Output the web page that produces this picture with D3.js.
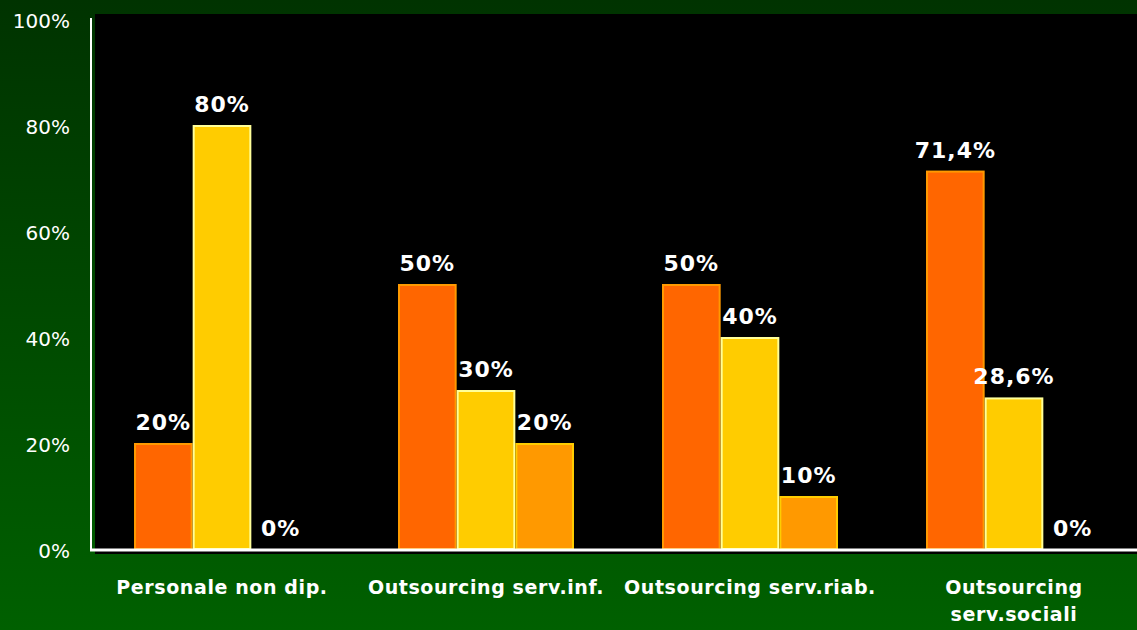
<!DOCTYPE html>
<html><head><meta charset="utf-8">
<script src="https://cdn.jsdelivr.net/npm/d3@7"></script>
<style>html,body{margin:0;padding:0;background:#000;}svg{display:block;}</style>
</head><body>
<svg id="c" width="1137" height="630"></svg>
<script>
const categories = [["Personale non dip."],["Outsourcing serv.inf."],["Outsourcing serv.riab."],["Outsourcing","serv.sociali"]];
const series1 = [20, 50, 50, 71.4];
const series2 = [80, 30, 40, 28.6];
const series3 = [0, 20, 10, 0];
const valueLabels1 = ["20%","50%","50%","71,4%"];
const valueLabels2 = ["80%","30%","40%","28,6%"];
const valueLabels3 = ["0%","20%","10%","0%"];
const yTicks = [0,20,40,60,80,100];
const fills = ["#FF6600","#FFCC00","#FF9900"];
const strokes = ["#FF9900","#FFFF99","#FFCC00"];

const svg = d3.select("#c");
const W = 1137, H = 630;
const defs = svg.append("defs");
const g = defs.append("linearGradient").attr("id","bg").attr("x1",0).attr("y1",0).attr("x2",0).attr("y2",1);
g.append("stop").attr("offset","0%").attr("stop-color","#003300");
g.append("stop").attr("offset","100%").attr("stop-color","#006000");
svg.append("rect").attr("width",W).attr("height",H).attr("fill","url(#bg)");

const x0 = d3.scaleBand().domain(d3.range(categories.length)).range([90,1146]).paddingInner(1/3).paddingOuter(1/6);
const x1 = d3.scaleBand().domain([0,1,2]).range([0,x0.bandwidth()]);
const y = d3.scaleLinear().domain([0,100]).range([549,19]);

// plot area
svg.append("rect").attr("x",95).attr("y",14).attr("width",W-95).attr("height",540).attr("fill","#000");

const seriesArr = [series1,series2,series3];
const labelsArr = [valueLabels1,valueLabels2,valueLabels3];
seriesArr.forEach((s,si)=>{
  svg.append("g").selectAll("rect").data(s).join("rect")
    .attr("x",(d,i)=>x0(i)+x1(si)+1)
    .attr("y",d=>y(d)+1)
    .attr("width",x1.bandwidth()-2)
    .attr("height",d=>Math.max(0,y(0)-y(d)-1))
    .attr("fill",fills[si]).attr("stroke",d=>d>0?strokes[si]:"none").attr("stroke-width",2);
  svg.append("g").selectAll("text").data(s).join("text")
    .attr("x",(d,i)=>x0(i)+x1(si)+x1.bandwidth()/2)
    .attr("y",d=>y(d)-13)
    .attr("text-anchor","middle")
    .attr("fill","#fff").attr("font-family","DejaVu Sans, Verdana, sans-serif").attr("font-weight","bold").attr("font-size","22px").attr("letter-spacing","1px")
    .text((d,i)=>labelsArr[si][i]);
});

// axes
const yAxis = d3.axisLeft(y).tickValues(yTicks).tickSize(0).tickPadding(21).tickFormat(d=>d+"%");
const ya = svg.append("g").attr("transform","translate(91,0)").call(yAxis);
ya.select(".domain").attr("stroke","#fff").attr("stroke-width",2).attr("d","M0,18V550");
ya.selectAll("text").attr("fill","#fff").attr("font-family","DejaVu Sans, Verdana, sans-serif").attr("font-size","20px").attr("dy","0.4em");

svg.append("line").attr("x1",90).attr("x2",W).attr("y1",y(0)+1).attr("y2",y(0)+1).attr("stroke","#fff").attr("stroke-width",3);

const xAxis = svg.append("g");
categories.forEach((lines,i)=>{
  const t = xAxis.append("text").attr("x",x0(i)+x0.bandwidth()/2).attr("y",594)
    .attr("text-anchor","middle").attr("fill","#fff").attr("font-family","DejaVu Sans, Verdana, sans-serif").attr("font-weight","bold").attr("font-size","19px").attr("letter-spacing","0.6px");
  lines.forEach((l,j)=>t.append("tspan").attr("x",x0(i)+x0.bandwidth()/2).attr("dy",j?27:0).text(l));
});
</script>
</body></html>
